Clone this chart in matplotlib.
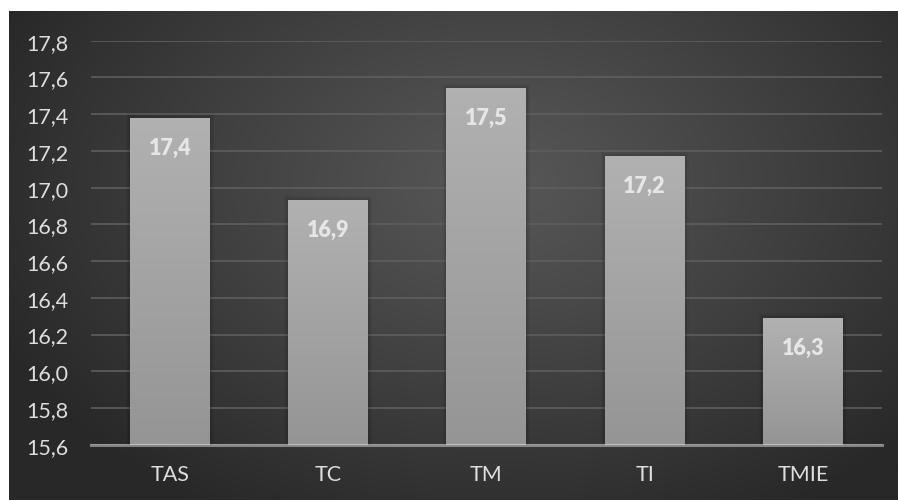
import numpy as np
import matplotlib
matplotlib.use("Agg")
import matplotlib.pyplot as plt
from matplotlib.ticker import FuncFormatter

categories = ["TAS", "TC", "TM", "TI", "TMIE"]
values = [17.38, 16.93, 17.54, 17.17, 16.29]
labels = ["17,4", "16,9", "17,5", "17,2", "16,3"]
yticks = [15.6, 15.8, 16.0, 16.2, 16.4, 16.6, 16.8, 17.0, 17.2, 17.4, 17.6, 17.8]

plt.rcParams['font.family'] = ['Lato', 'DejaVu Sans']

W, H = 898, 502
fig = plt.figure(figsize=(W / 100, H / 100), dpi=100)
fig.patch.set_facecolor("white")

# Background panel with radial gradient
bg = fig.add_axes([9 / W, 1 / H, 889 / W, 489 / H])
bg.set_axis_off()
ny, nx = 300, 540
yy, xx = np.mgrid[0:ny, 0:nx]
cx, cy = nx * 0.55, ny * 0.35
r = np.sqrt(((xx - cx) / (nx * 0.62)) ** 2 + ((yy - cy) / (ny * 0.78)) ** 2)
r = np.clip(r, 0, 1)
inner, outer = 0x57 / 255, 0x28 / 255
g = inner + (outer - inner) * r ** 1.1
img = np.dstack([g, g, g])
bg.imshow(img, aspect="auto", extent=[0, 1, 0, 1], origin="upper", interpolation="bicubic")
bg.set_xlim(0, 1)
bg.set_ylim(0, 1)

ax = fig.add_axes([90.7 / W, (H - 445.7) / H, (882 - 90.7) / W, (445.7 - 41.7) / H])
ax.patch.set_alpha(0)
x = np.arange(len(categories))
bars = ax.bar(x, [v - 15.6 for v in values], bottom=15.6, width=0.505, color="#a5a5a5", zorder=3, lw=0)
ax.set_ylim(15.6, 17.8)
ax.set_xlim(-0.5, len(categories) - 0.5)

# gradient fill & soft shadow for bars
grad = np.linspace(0, 1, 100).reshape(-1, 1)
top_c, bot_c = 0xb1 / 255, 0x95 / 255
gcol = top_c + (bot_c - top_c) * grad
gimg = np.dstack([gcol, gcol, gcol])
for b in bars:
    x0, y0 = b.get_x(), b.get_y()
    w, h = b.get_width(), b.get_height()
    for k, a in [(0.05, 0.04), (0.035, 0.05), (0.02, 0.06)]:
        ax.add_patch(plt.Rectangle((x0 - k * 0.5, y0), w + k, h + k * 0.5, color="black", alpha=a, zorder=2, lw=0))
    im = ax.imshow(gimg, aspect="auto", extent=[x0, x0 + w, y0, y0 + h], origin="upper", zorder=3.5)
    im.set_clip_path(b)

ax.set_xlim(-0.5, len(categories) - 0.5)
ax.set_ylim(15.6, 17.8)

for xi, v, lab in zip(x, values, labels):
    ax.annotate(lab, (xi, v), xytext=(0, -21), textcoords="offset points",
                ha="center", va="center", fontsize=15.5, fontweight="heavy", color="#e6e6e6", zorder=5)

ax.set_yticks(yticks)
ax.yaxis.set_major_formatter(FuncFormatter(lambda v, p: f"{v:.1f}".replace(".", ",")))
ax.set_xticks(x)
ax.set_xticklabels(categories)
ax.tick_params(axis="both", length=0, labelsize=15.5, labelcolor="#dedede")
ax.tick_params(axis="y", pad=16)
ax.tick_params(axis="x", pad=14)
ax.grid(axis="y", color="#5e5e5e", lw=1.2, zorder=1)
ax.set_axisbelow(True)
for s in ["top", "right", "left", "bottom"]:
    ax.spines[s].set_visible(False)
ax.axhline(15.6, color="white", alpha=0.42, lw=2.2, zorder=6, clip_on=False)

fig.savefig("out.png", dpi=100, facecolor=fig.get_facecolor())
